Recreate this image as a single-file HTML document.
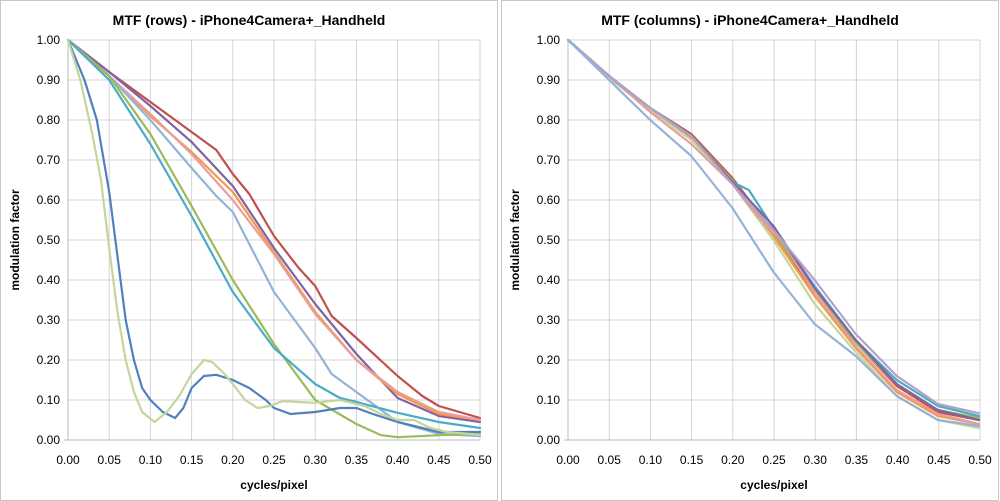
<!DOCTYPE html>
<html><head><meta charset="utf-8"><style>
body{margin:0;background:#fff;}
svg{display:block;font-family:"Liberation Sans",sans-serif;}
.g line{stroke:#d4d4d4;stroke-width:1}
.s polyline{fill:none;stroke-width:2.2;stroke-linejoin:round;stroke-linecap:round;vector-effect:non-scaling-stroke}
.t{font-size:12px;fill:#000}
</style></head><body>
<svg width="1000" height="501" viewBox="0 0 1000 501">
<rect x="0.5" y="0.5" width="497" height="500" fill="#fff" stroke="#c8c8c8"/>
<rect x="501.5" y="0.5" width="497" height="500" fill="#fff" stroke="#c8c8c8"/>
<defs>
<g id="grid" class="g">
<line x1="0" y1="0" x2="412" y2="0"/><line x1="0" y1="40" x2="412" y2="40"/><line x1="0" y1="80" x2="412" y2="80"/><line x1="0" y1="120" x2="412" y2="120"/><line x1="0" y1="160" x2="412" y2="160"/><line x1="0" y1="200" x2="412" y2="200"/><line x1="0" y1="240" x2="412" y2="240"/><line x1="0" y1="280" x2="412" y2="280"/><line x1="0" y1="320" x2="412" y2="320"/><line x1="0" y1="360" x2="412" y2="360"/>
<line x1="41.2" y1="0" x2="41.2" y2="400"/><line x1="82.4" y1="0" x2="82.4" y2="400"/><line x1="123.6" y1="0" x2="123.6" y2="400"/><line x1="164.8" y1="0" x2="164.8" y2="400"/><line x1="206" y1="0" x2="206" y2="400"/><line x1="247.2" y1="0" x2="247.2" y2="400"/><line x1="288.4" y1="0" x2="288.4" y2="400"/><line x1="329.6" y1="0" x2="329.6" y2="400"/><line x1="370.8" y1="0" x2="370.8" y2="400"/><line x1="412" y1="0" x2="412" y2="400"/>
<line x1="0" y1="0" x2="0" y2="400" style="stroke:#bbb"/><line x1="-4" y1="400" x2="412" y2="400" style="stroke:#bbb"/>
<g class="t" text-anchor="end">
<text x="-8" y="4">1.00</text><text x="-8" y="44">0.90</text><text x="-8" y="84">0.80</text><text x="-8" y="124">0.70</text><text x="-8" y="164">0.60</text><text x="-8" y="204">0.50</text><text x="-8" y="244">0.40</text><text x="-8" y="284">0.30</text><text x="-8" y="324">0.20</text><text x="-8" y="364">0.10</text><text x="-8" y="404">0.00</text>
</g>
<g class="t" text-anchor="middle">
<text x="0" y="424">0.00</text><text x="41.2" y="424">0.05</text><text x="82.4" y="424">0.10</text><text x="123.6" y="424">0.15</text><text x="164.8" y="424">0.20</text><text x="206" y="424">0.25</text><text x="247.2" y="424">0.30</text><text x="288.4" y="424">0.35</text><text x="329.6" y="424">0.40</text><text x="370.8" y="424">0.45</text><text x="412" y="424">0.50</text>
</g>
<text x="206" y="449" text-anchor="middle" font-size="12" font-weight="bold">cycles/pixel</text>
<text transform="translate(-49,200) rotate(-90)" text-anchor="middle" font-size="12" font-weight="bold">modulation factor</text>
</g>
</defs>
<use href="#grid" x="68" y="40"/>
<use href="#grid" x="568" y="40"/>
<text x="249" y="25" text-anchor="middle" font-size="14" font-weight="bold">MTF (rows) - iPhone4Camera+_Handheld</text>
<text x="750" y="25" text-anchor="middle" font-size="14" font-weight="bold">MTF (columns) - iPhone4Camera+_Handheld</text>

<g class="s" transform="translate(68,440) scale(824,-400)">
<polyline stroke="#C0504D" points="0,1 .05,.92 .1,.845 .15,.77 .18,.725 .2,.665 .22,.615 .25,.51 .28,.43 .3,.385 .32,.31 .35,.255 .4,.16 .43,.11 .45,.085 .5,.055"/>
<polyline stroke="#8064A2" points="0,1 .05,.92 .1,.835 .15,.745 .2,.635 .25,.48 .3,.34 .35,.215 .4,.105 .45,.06 .5,.045"/>
<polyline stroke="#F79646" points="0,1 .05,.91 .1,.81 .15,.72 .2,.62 .25,.47 .3,.32 .35,.2 .4,.115 .45,.065 .5,.05"/>
<polyline stroke="#E6A09C" points="0,1 .05,.91 .1,.815 .15,.715 .2,.6 .25,.465 .3,.315 .35,.2 .4,.12 .45,.07 .5,.05"/>
<polyline stroke="#95B3D7" points="0,1 .05,.91 .1,.8 .15,.68 .18,.61 .2,.57 .25,.37 .3,.23 .32,.165 .35,.12 .4,.045 .45,.015 .5,.01"/>
<polyline stroke="#9BBB59" points="0,1 .05,.91 .1,.765 .15,.585 .2,.4 .25,.24 .3,.1 .35,.04 .38,.012 .4,.007 .45,.012 .5,.015"/>
<polyline stroke="#4BACC6" points="0,1 .05,.9 .1,.74 .15,.56 .2,.37 .25,.23 .3,.14 .33,.105 .35,.095 .4,.068 .45,.045 .5,.03"/>
<polyline stroke="#4F81BD" points="0,1 .02,.9 .035,.8 .05,.62 .06,.46 .07,.3 .08,.2 .09,.13 .1,.1 .115,.07 .13,.055 .14,.08 .15,.13 .165,.16 .18,.163 .2,.15 .22,.13 .24,.1 .25,.08 .27,.065 .3,.07 .33,.08 .35,.08 .37,.065 .4,.045 .45,.02 .5,.02"/>
<polyline stroke="#C3D69B" points="0,1 .015,.9 .03,.76 .04,.65 .05,.48 .06,.32 .07,.2 .08,.12 .09,.07 .105,.045 .12,.07 .135,.11 .15,.165 .165,.2 .175,.195 .19,.165 .2,.14 .215,.1 .23,.08 .245,.085 .26,.097 .28,.095 .3,.093 .33,.1 .36,.085 .38,.065 .4,.05 .42,.05 .44,.03 .46,.02 .5,.013"/>
</g>

<g class="s" transform="translate(568,440) scale(822,-400)">
<polyline stroke="#C0504D" points="0,1 .05,.91 .1,.83 .15,.765 .2,.655 .25,.52 .3,.37 .35,.245 .4,.135 .45,.07 .5,.05"/>
<polyline stroke="#F79646" points="0,1 .05,.91 .1,.825 .15,.755 .2,.645 .25,.51 .3,.36 .35,.23 .4,.12 .45,.06 .5,.04"/>
<polyline stroke="#9BBB59" points="0,1 .05,.91 .1,.825 .15,.76 .2,.65 .25,.52 .3,.375 .35,.245 .4,.14 .45,.075 .5,.055"/>
<polyline stroke="#C3D69B" points="0,1 .05,.905 .1,.825 .15,.75 .2,.64 .25,.5 .3,.34 .35,.22 .4,.11 .45,.05 .5,.03"/>
<polyline stroke="#E6A09C" points="0,1 .05,.91 .1,.82 .15,.74 .17,.7 .2,.64 .23,.56 .26,.5 .3,.37 .35,.235 .4,.125 .45,.065 .5,.04"/>
<polyline stroke="#4BACC6" points="0,1 .05,.91 .1,.83 .15,.76 .2,.645 .22,.625 .25,.53 .3,.385 .35,.25 .4,.15 .45,.085 .5,.06"/>
<polyline stroke="#8064A2" points="0,1 .05,.91 .1,.83 .15,.76 .2,.645 .25,.535 .3,.38 .35,.25 .4,.14 .45,.075 .5,.05"/>
<polyline stroke="#B3A2C7" points="0,1 .05,.91 .1,.83 .15,.76 .2,.64 .25,.525 .3,.4 .35,.265 .4,.16 .45,.09 .5,.067"/>
<polyline stroke="#95B3D7" points="0,1 .05,.9 .1,.8 .15,.71 .2,.58 .25,.42 .3,.29 .35,.21 .4,.11 .45,.05 .5,.035"/>
</g>
</svg>
</body></html>
